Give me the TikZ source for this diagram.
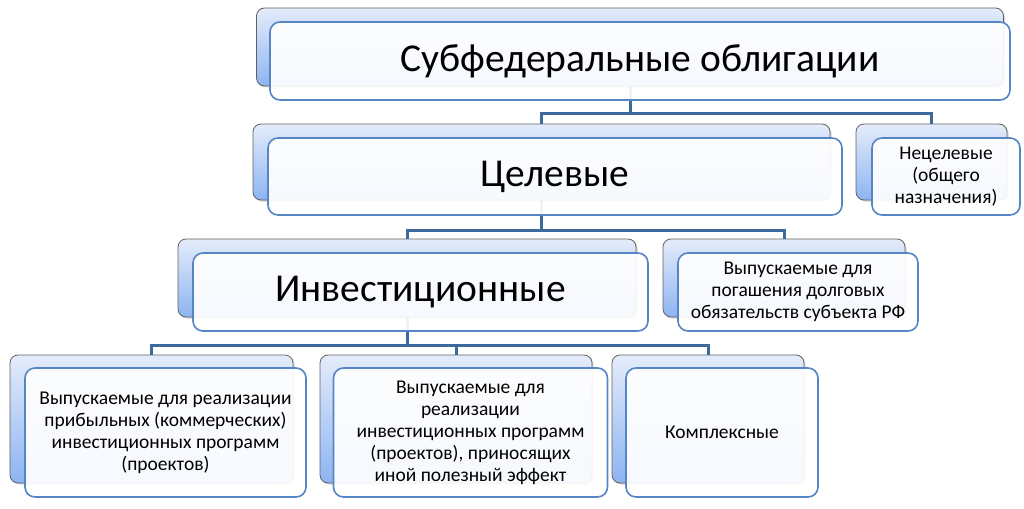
\documentclass[tikz,border=0pt]{standalone}
\usepackage{fontspec}
\setmainfont{Carlito}
\usetikzlibrary{shadows}
\definecolor{linkblue}{HTML}{3D6A9E}
\definecolor{edgeblue}{HTML}{5585C5}
\definecolor{backtop}{HTML}{E4ECFA}
\definecolor{backbot}{HTML}{8DB4F2}
\tikzset{
  backbox/.style={rectangle, rounded corners=8pt, draw=gray!75!black, line width=0.8pt,
    top color=backtop, bottom color=backbot,
    drop shadow={opacity=0.35, shadow xshift=1.5pt, shadow yshift=-1.5pt}},
  frontbox/.style={rectangle, rounded corners=10pt, draw=edgeblue, line width=1.6pt,
    fill=white, fill opacity=0.92, text opacity=1, align=center, inner sep=0pt},
  bigtxt/.style={font=\fontsize{39.5}{42}\selectfont},
  smalltxt/.style={font=\fontsize{19.5}{22}\selectfont},
  link/.style={draw=linkblue, line width=3pt}
}
\begin{document}
\begin{tikzpicture}[x=1pt, y=-1pt]
  \useasboundingbox (0,0) rectangle (1024,508);
  % back layers
  \node[backbox, minimum width=747pt, minimum height=78pt] (top-b)   at (630,47)    {};
  \node[backbox, minimum width=577pt, minimum height=76pt] (cel-b)   at (541.5,162) {};
  \node[backbox, minimum width=151pt, minimum height=76pt] (necel-b) at (931.5,162) {};
  \node[backbox, minimum width=458pt, minimum height=78pt] (inv-b)   at (407,278)   {};
  \node[backbox, minimum width=242pt, minimum height=78pt] (pog-b)   at (784,278)   {};
  \node[backbox, minimum width=283pt, minimum height=128pt] (prib-b) at (151.5,419) {};
  \node[backbox, minimum width=272pt, minimum height=128pt] (ineff-b) at (456,419)  {};
  \node[backbox, minimum width=192pt, minimum height=128pt] (kompl-b) at (708,419)  {};
  % connectors
  \draw[link] (top-b.south) -- ++(0,27) -| (cel-b.north);
  \draw[link] (top-b.south) -- ++(0,27) -| (necel-b.north);
  \draw[link] (cel-b.south) -- ++(0,30) -| (inv-b.north);
  \draw[link] (cel-b.south) -- ++(0,30) -| (pog-b.north);
  \draw[link] (inv-b.south) -- ++(0,28) -| (prib-b.north);
  \draw[link] (inv-b.south) -- ++(0,28) -| (ineff-b.north);
  \draw[link] (inv-b.south) -- ++(0,28) -| (kompl-b.north);
  % front layers
  \node[frontbox, bigtxt, minimum width=740pt, minimum height=78pt] (top) at (640,61)
    {Субфедеральные облигации};
  \node[frontbox, bigtxt, minimum width=574pt, minimum height=77pt] (cel) at (555,176.5)
    {Целевые};
  \node[frontbox, smalltxt, minimum width=148pt, minimum height=77pt] (necel) at (946,176.5)
    {Нецелевые\\(общего\\назначения)};
  \node[frontbox, bigtxt, minimum width=455pt, minimum height=78pt] (inv) at (420.5,292)
    {Инвестиционные};
  \node[frontbox, smalltxt, minimum width=240pt, minimum height=78pt] (pog) at (798,292)
    {Выпускаемые для\\погашения долговых\\обязательств субъекта РФ};
  \node[frontbox, smalltxt, minimum width=281pt, minimum height=129pt] (prib) at (165.5,432.5)
    {Выпускаемые для реализации\\прибыльных (коммерческих)\\инвестиционных программ\\(проектов)};
  \node[frontbox, smalltxt, minimum width=274pt, minimum height=129pt] (ineff) at (470.5,432.5)
    {Выпускаемые для\\реализации\\инвестиционных программ\\(проектов), приносящих\\иной полезный эффект};
  \node[frontbox, smalltxt, minimum width=192pt, minimum height=129pt] (kompl) at (722,432.5)
    {Комплексные};
\end{tikzpicture}
\end{document}
